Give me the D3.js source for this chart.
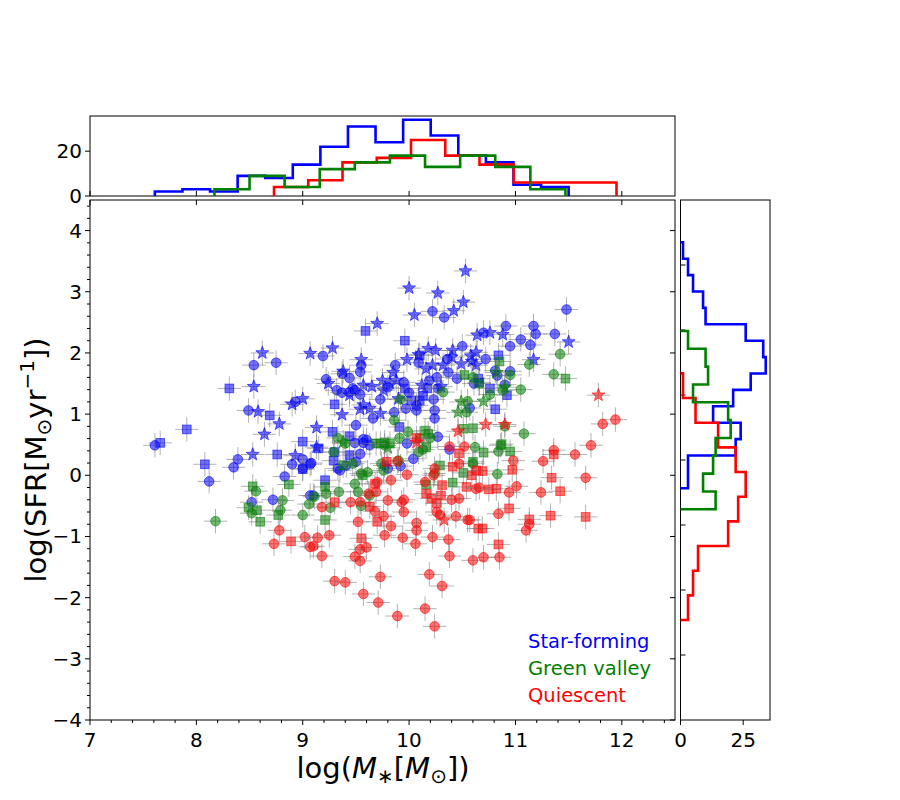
<!DOCTYPE html>
<html><head><meta charset="utf-8">
<script src="https://cdn.jsdelivr.net/npm/d3@7"></script>
<style>body{margin:0;background:#fff}svg{font-family:"DejaVu Sans",sans-serif}</style>
</head><body>
<svg id="c" width="900" height="800"></svg>
<script>
// ---------------- DATA ----------------
// [log M*, log SFR, marker]
const starForming = [
[8.62,2.00,'*'],[8.54,1.80,'o'],[8.75,1.84,'o'],[8.31,1.42,'s'],[8.54,1.45,'*'],[8.49,1.06,'o'],[8.58,1.04,'*'],[8.69,0.98,'s'],[8.78,0.84,'*'],[8.64,0.67,'*'],[8.93,1.20,'o'],[8.90,1.16,'*'],[9.00,1.25,'*'],[9.07,1.99,'*'],[7.91,0.75,'s'],[7.66,0.53,'s'],[7.61,0.49,'o'],[9.00,0.55,'s'],
[10.53,3.34,'*'],[10.00,3.06,'*'],[10.27,2.98,'*'],[10.51,2.83,'*'],[10.42,2.69,'*'],[10.22,2.68,'o'],[10.33,2.58,'o'],[10.05,2.62,'*'],[9.70,2.48,'*'],[9.59,2.36,'s'],[9.96,2.20,'s'],[9.19,1.95,'o'],[9.28,2.08,'*'],[10.50,2.11,'o'],[10.41,2.04,'*'],[10.18,2.07,'*'],[10.25,2.04,'*'],[10.09,1.97,'*'],[10.10,1.96,'s'],[9.87,1.80,'o'],[9.98,1.89,'*'],[10.09,1.84,'o'],[10.16,1.74,'*'],[10.22,1.80,'*'],[10.32,1.80,'*'],[10.40,1.93,'*'],[10.49,1.82,'*'],[10.37,1.68,'o'],[10.26,1.60,'o'],[10.45,1.58,'o'],[10.59,1.86,'*'],[10.63,2.01,'*'],[10.64,2.29,'*'],
[9.55,1.89,'*'],[9.55,1.80,'o'],[9.54,1.69,'o'],[9.38,1.70,'*'],[9.37,1.66,'o'],[9.44,1.59,'o'],[9.22,1.57,'o'],[9.24,1.50,'*'],[9.75,1.55,'*'],[9.82,1.50,'*'],[9.88,1.55,'*'],[9.95,1.52,'o'],[9.57,1.47,'*'],[9.47,1.42,'o'],[9.49,1.39,'o'],[9.44,1.36,'o'],[9.32,1.39,'o'],[9.37,1.35,'o'],[9.44,1.31,'*'],[9.54,1.32,'o'],[9.76,1.39,'*'],[9.80,1.44,'o'],[9.96,1.42,'s'],[10.17,1.42,'s'],[10.12,1.47,'*'],[10.27,1.42,'o'],[9.73,1.24,'o'],[9.30,1.16,'s'],[9.57,1.15,'*'],[9.63,1.09,'*'],[9.54,1.08,'*'],[9.37,0.99,'*'],[9.66,0.93,'o'],[9.73,1.01,'*'],[9.86,1.03,'o'],[9.97,1.09,'o'],[10.02,1.22,'s'],[10.10,1.22,'s'],[10.07,1.14,'o'],[10.07,1.06,'o'],[10.23,1.24,'o'],[10.24,1.06,'o'],[10.24,0.93,'o'],[10.27,0.63,'o'],[9.13,0.78,'*'],[9.28,0.71,'s'],[9.50,0.82,'o'],[9.44,0.64,'s'],[9.57,0.59,'o'],[9.60,0.58,'o'],[9.13,0.46,'*'],[9.91,0.79,'s'],
[10.00,1.35,'o'],[10.19,1.55,'o'],[10.13,1.30,'s'],[9.90,1.25,'*'],[9.65,1.45,'*'],[9.85,1.68,'*'],[10.30,1.45,'*'],[10.36,1.90,'o'],
[11.48,2.71,'o'],[10.91,2.44,'o'],[11.17,2.44,'o'],[11.19,2.31,'o'],[11.37,2.31,'o'],[11.50,2.18,'*'],[11.05,2.22,'o'],[10.95,2.11,'o'],[11.14,2.13,'o'],[10.88,2.30,'*'],[10.76,2.33,'*'],[10.70,2.33,'o'],[10.72,1.90,'o'],[10.84,1.96,'s'],[11.17,1.89,'*'],[10.81,1.71,'o'],[10.83,1.63,'o'],[10.95,1.70,'o'],[10.90,1.48,'o'],[10.76,1.42,'s'],[10.92,1.31,'s'],[10.81,1.08,'s'],
[10.58,1.95,'*'],[10.61,1.50,'o'],[10.57,1.10,'o'],[10.63,1.80,'*'],[10.65,1.58,'s'],[10.66,1.52,'s'],
[8.08,0.18,'s'],[8.12,-0.10,'o'],[8.39,0.26,'o'],[8.35,0.13,'o'],[8.53,0.34,'*'],[8.76,0.34,'s'],[8.93,0.32,'*'],[9.00,0.26,'o'],[8.90,0.18,'o'],[9.00,0.10,'s'],[9.07,0.18,'o'],[8.83,-0.02,'o'],[8.72,-0.40,'o'],[8.52,-0.44,'o'],[9.07,-0.33,'o'],
[9.08,0.20,'o'],[9.00,0.11,'o'],[9.15,0.44,'s'],[9.30,0.38,'s'],[9.29,0.24,'s'],[9.35,0.08,'o'],[9.33,0.11,'o'],[9.41,0.16,'o'],[9.50,0.22,'o'],[9.54,0.35,'o'],[9.44,0.33,'s'],[9.21,-0.08,'s'],[9.10,-0.33,'o'],[9.49,0.53,'o'],[9.57,0.53,'o'],[9.63,0.49,'o'],[9.77,0.16,'o'],[9.80,0.11,'o'],[9.98,0.52,'o'],[10.04,0.27,'o'],[10.38,0.42,'o'],[9.92,0.15,'o']
];
const greenValley = [
[9.92,1.24,'o'],[9.86,0.90,'o'],[10.32,1.36,'o'],[10.52,1.64,'s'],[10.60,1.60,'o'],[10.55,1.21,'o'],[10.49,1.20,'*'],[10.46,1.03,'*'],[10.54,1.03,'o'],[10.60,0.77,'s'],[10.51,0.76,'s'],[10.62,0.46,'o'],[10.15,0.73,'s'],[10.18,0.68,'s'],[10.10,0.60,'s'],[9.91,0.61,'o'],[9.99,0.71,'o'],[9.77,0.54,'s'],[9.69,0.52,'s'],[9.33,0.61,'o'],[10.20,0.61,'o'],[9.40,0.52,'o'],[9.80,0.45,'*'],[9.38,0.54,'*'],
[11.42,1.98,'o'],[10.85,1.86,'s'],[11.13,1.81,'o'],[10.95,1.64,'o'],[10.82,1.68,'*'],[11.36,1.65,'o'],[11.47,1.58,'s'],[10.90,1.44,'*'],[10.88,1.39,'o'],[11.05,1.40,'o'],[10.76,1.32,'o'],[10.70,1.21,'*'],[11.08,0.68,'o'],[10.87,0.51,'s'],[10.90,0.80,'o'],[10.66,1.50,'s'],
[8.53,-0.18,'s'],[8.56,-0.26,'o'],[8.87,-0.15,'s'],[8.81,-0.41,'o'],[8.49,-0.53,'s'],[8.57,-0.57,'s'],[8.52,-0.62,'o'],[8.60,-0.76,'s'],[8.79,-0.57,'o'],[8.77,-0.65,'s'],[9.00,-0.65,'o'],[9.06,-0.47,'o'],[8.18,-0.75,'o'],
[9.29,0.38,'o'],[9.38,0.16,'s'],[9.47,0.19,'o'],[9.55,0.03,'o'],[9.56,0.00,'s'],[9.61,0.05,'o'],[9.76,0.08,'o'],[9.74,0.19,'o'],[9.90,0.24,'o'],[9.73,0.52,'s'],[9.77,0.49,'o'],[9.82,0.52,'s'],[10.09,0.38,'o'],[10.13,0.42,'o'],[10.16,0.46,'s'],[9.49,-0.14,'o'],[9.52,-0.27,'o'],[9.34,-0.27,'o'],[9.22,-0.30,'o'],[9.21,-0.19,'s'],[9.11,-0.35,'o'],[9.26,-0.53,'o'],[9.55,-0.50,'o'],[9.63,-0.33,'o'],[9.21,-0.73,'s'],[10.29,0.16,'s'],[10.24,0.03,'o'],[10.41,-0.12,'s'],[10.16,-0.15,'s'],[10.51,0.04,'s'],[10.60,0.22,'s'],[10.60,0.19,'o'],
[10.70,0.37,'s'],[10.84,0.39,'o'],[10.86,0.49,'s'],[10.95,0.39,'s'],[10.83,0.02,'o']
];
const quiescent = [
[10.07,0.61,'s'],[10.46,0.72,'*'],[11.78,1.31,'*'],[11.94,0.91,'o'],[11.82,0.84,'o'],[10.72,0.83,'*'],[10.90,0.83,'*'],
[8.78,-0.90,'o'],[8.73,-1.12,'o'],[8.89,-1.08,'s'],[9.02,-1.01,'o'],[9.07,-1.17,'o'],
[10.07,0.54,'*'],[10.38,0.47,'o'],[10.52,0.47,'o'],[10.47,0.36,'s'],[10.47,0.19,'o'],[10.41,0.14,'s'],[10.24,0.11,'o'],[10.23,0.00,'o'],[10.59,0.00,'s'],[10.63,0.08,'s'],[9.98,0.01,'o'],[9.89,0.23,'o'],[9.79,0.22,'s'],[9.83,-0.08,'o'],[9.70,-0.11,'o'],[9.68,-0.14,'s'],[9.69,-0.27,'o'],[9.62,-0.30,'o'],[9.80,-0.41,'o'],[9.93,-0.44,'o'],[9.95,-0.40,'o'],[9.95,-0.60,'o'],[10.31,-0.16,'s'],[10.15,-0.11,'o'],[10.16,-0.30,'s'],[10.21,-0.38,'s'],[10.30,-0.33,'s'],[10.26,-0.46,'s'],[10.40,-0.40,'o'],[10.47,-0.38,'o'],[10.54,-0.19,'s'],[10.63,-0.22,'o'],[10.26,-0.60,'o'],[10.29,-0.65,'o'],[10.33,-0.73,'*'],[10.44,-0.67,'o'],[10.55,-0.73,'o'],[10.65,-0.87,'s'],
[9.30,-0.44,'s'],[9.45,-0.44,'o'],[9.54,-0.44,'o'],[9.18,-0.52,'o'],[9.63,-0.51,'s'],[9.68,-0.59,'o'],[9.76,-0.67,'o'],[9.70,-0.76,'s'],[9.52,-0.76,'o'],[9.83,-0.83,'o'],[10.07,-0.78,'o'],[10.07,-0.90,'o'],[9.14,-1.02,'o'],[9.25,-0.98,'o'],[9.10,-1.16,'o'],[9.18,-1.32,'o'],[9.77,-0.98,'o'],[9.94,-1.02,'o'],[10.06,-1.12,'o'],[10.22,-1.01,'o'],[10.37,-1.05,'o'],[9.55,-1.03,'s'],[9.60,-1.18,'o'],[9.54,-1.21,'o'],[9.49,-1.33,'o'],[9.54,-1.40,'o'],[10.38,-1.32,'o'],[10.60,-1.39,'o'],[9.30,-1.73,'o'],[9.40,-1.75,'o'],[9.73,-1.66,'o'],[10.19,-1.62,'o'],[10.31,-1.81,'o'],[9.57,-1.94,'o'],[9.71,-2.08,'o'],[10.15,-2.18,'o'],[9.89,-2.30,'o'],[10.24,-2.47,'o'],
[11.36,0.41,'o'],[11.36,0.34,'s'],[11.56,0.34,'o'],[11.71,0.49,'o'],[10.98,0.24,'o'],[11.26,0.23,'o'],[10.97,0.09,'s'],[10.69,0.07,'s'],[11.34,-0.04,'s'],[11.66,-0.04,'o'],[10.66,-0.20,'o'],[10.75,-0.23,'s'],[10.82,-0.22,'s'],[10.94,-0.28,'o'],[11.01,-0.18,'o'],[11.24,-0.28,'o'],[11.42,-0.26,'s'],[10.94,-0.54,'s'],[10.84,-0.63,'o'],[10.57,-0.73,'o'],[11.13,-0.72,'s'],[11.33,-0.66,'s'],[11.66,-0.68,'s'],[11.13,-0.80,'o'],[11.10,-0.90,'o'],[10.69,-0.87,'s'],[10.84,-1.13,'s'],[10.70,-1.34,'o'],[10.85,-1.34,'o']
];
// histogram of stellar mass (top panel): range [lo, hi], equal-width bins
const massHistSF = {lo:7.61, hi:11.50, counts:[2,3,2,9,8,14,22,31,24,34,27,18,15,5,4]};
const massHistGV = {lo:8.17, hi:11.47, counts:[3,9,4,12,15,18,13,18,13,3]};
const massHistQ  = {lo:8.73, hi:11.95, counts:[4,7,15,17,25,18,14,6,6,6]};
// histogram of SFR (right panel), bins ascending
const sfrHistSF = {lo:-0.435, hi:3.349, counts:[3,3,22,24,13,21,28,34,33,26,10,9,5,3,1]};
const sfrHistGV = {lo:-0.758, hi:1.985, counts:[14,9,13,14,20,19,5,11,10,3]};
const sfrHistQ  = {lo:-2.462, hi:1.333, counts:[3,5,7,19,23,26,22,15,6,1]};
const xTicks = [7,8,9,10,11,12];
const yTicks = [-4,-3,-2,-1,0,1,2,3,4];
const topTicks = [0,20];
const rightTicks = [0,25];
const rightYTicks = [-3,-2,-1,0,1,2,3];
const legendLabels = ["Star-forming","Green valley","Quiescent"];
const xErr = 0.11, yErr = 0.2;

// ---------------- LAYOUT ----------------
const svg = d3.select("#c");
const L=90, R=675, T=200, B=720;
const x = d3.scaleLinear([7,12.5],[L,R]);
const y = d3.scaleLinear([-4,4.5],[B,T]);
const yT = d3.scaleLinear([0,35.7],[196,116]);
const xR = d3.scaleLinear([0,35.7],[680.5,770]);
const yR = d3.scaleLinear([-4,4],[B,T]);
const colors = ["#0000ff","#008000","#ff0000"];
const FS = 20;

function starPath(r1, r2){
  const pts=[];
  for(let i=0;i<10;i++){const a=-Math.PI/2+i*Math.PI/5; const r=i%2?r2:r1; pts.push([r*Math.cos(a), r*Math.sin(a)]);}
  return "M"+pts.map(p=>p[0].toFixed(2)+","+p[1].toFixed(2)).join("L")+"Z";
}

// ---------------- SCATTER ----------------
const gS = svg.append("g");
[starForming, greenValley, quiescent].forEach((data,ci)=>{
  const col = colors[ci];
  const g = gS.append("g");
  data.forEach(d=>{
    const px=x(d[0]), py=y(d[1]);
    g.append("line").attr("x1",x(d[0]-xErr)).attr("x2",x(d[0]+xErr)).attr("y1",py).attr("y2",py)
      .attr("stroke","#808080").attr("stroke-opacity",0.6).attr("stroke-width",1);
    g.append("line").attr("x1",px).attr("x2",px).attr("y1",y(d[1]-yErr)).attr("y2",y(d[1]+yErr))
      .attr("stroke","#808080").attr("stroke-opacity",0.6).attr("stroke-width",1);
    let m;
    if(d[2]==='o') m=g.append("circle").attr("cx",px).attr("cy",py).attr("r",4.8);
    else if(d[2]==='s') m=g.append("rect").attr("x",px-4.3).attr("y",py-4.3).attr("width",8.6).attr("height",8.6);
    else m=g.append("path").attr("d",starPath(6.8,2.8)).attr("transform",`translate(${px},${py})`);
    m.attr("fill",col).attr("fill-opacity",0.55).attr("stroke",col).attr("stroke-opacity",0.6).attr("stroke-width",1);
  });
});

// ---------------- FRAMES & TICKS ----------------
function frame(x0,y0,x1,y1){svg.append("rect").attr("x",x0).attr("y",y0).attr("width",x1-x0).attr("height",y1-y0).attr("fill","none").attr("stroke","#000").attr("stroke-width",1);}
function tick(x1,y1,x2,y2){svg.append("line").attr("x1",x1).attr("y1",y1).attr("x2",x2).attr("y2",y2).attr("stroke","#000").attr("stroke-width",1);}
function label(t,px,py,anchor){svg.append("text").attr("x",px).attr("y",py).attr("text-anchor",anchor).attr("font-size",FS).attr("fill","#000").text(t);}

frame(L,T,R,B);
// main x axis
xTicks.forEach(v=>{tick(x(v),B,x(v),B+5); tick(x(v),T,x(v),T+5); label(String(v),x(v),B+27,"middle");});
d3.range(70,125,2).map(v=>v/10).filter(v=>!xTicks.includes(v)).forEach(v=>tick(x(v),B,x(v),B+3));
// main y axis
yTicks.forEach(v=>{tick(L-5,y(v),L,y(v)); tick(R-5,y(v),R,y(v)); label(v<0?"\u2212"+(-v):String(v),L-8,y(v)+7,"end");});
d3.range(-40,45,2).map(v=>v/10).filter(v=>!yTicks.includes(v)).forEach(v=>tick(L-3,y(v),L,y(v)));

// top histogram panel
frame(L,116,R,196);
topTicks.forEach(v=>{tick(L-5,yT(v),L,yT(v)); label(String(v),L-8,yT(v)+7,"end");});
xTicks.forEach(v=>tick(x(v),196,x(v),191));
// right histogram panel
frame(680.5,T,770,B);
rightTicks.forEach(v=>{tick(xR(v),B,xR(v),B+5); label(String(v),xR(v),B+27,"middle");});
rightYTicks.forEach(v=>tick(680.5,yR(v),685.5,yR(v)));

// ---------------- HISTOGRAMS ----------------
function edges(h){const n=h.counts.length; return h.counts.map((c,i)=>[h.lo+(h.hi-h.lo)*i/n, h.lo+(h.hi-h.lo)*(i+1)/n, c]);}
const lineTop = d3.line().x(d=>x(d[0])).y(d=>yT(d[1]));
const lineRight = d3.line().x(d=>xR(d[1])).y(d=>yR(d[0]));
[[massHistSF,sfrHistSF,0],[massHistQ,sfrHistQ,2],[massHistGV,sfrHistGV,1]].forEach(([hm,hs,ci])=>{
  let p=[[hm.lo,0]]; edges(hm).forEach(e=>{p.push([e[0],e[2]],[e[1],e[2]]);}); p.push([hm.hi,0]);
  svg.append("path").attr("d",lineTop(p)).attr("fill","none").attr("stroke",colors[ci]).attr("stroke-width",2.6);
  let q=[[hs.lo,0]]; edges(hs).forEach(e=>{q.push([e[0],e[2]],[e[1],e[2]]);}); q.push([hs.hi,0]);
  svg.append("path").attr("d",lineRight(q)).attr("fill","none").attr("stroke",colors[ci]).attr("stroke-width",2.6);
});

// ---------------- LEGEND TEXT ----------------
legendLabels.forEach((t,i)=>{
  svg.append("text").attr("x",528).attr("y",648+i*27).attr("font-size",19.5).attr("fill",colors[i]).text(t);
});

// ---------------- AXIS LABELS ----------------
const xl = svg.append("text").attr("x",383).attr("y",778).attr("text-anchor","middle").attr("font-size",29).attr("fill","#000");
xl.append("tspan").text("log(");
xl.append("tspan").attr("font-style","italic").text("M");
xl.append("tspan").attr("font-size",20).attr("dy",5).text("\u2217");
xl.append("tspan").attr("dy",-5).text("[");
xl.append("tspan").attr("font-style","italic").text("M");
xl.append("tspan").attr("font-size",20).attr("dy",5).text("\u2299");
xl.append("tspan").attr("dy",-5).text("])");

const yl = svg.append("text").attr("transform","translate(46,460) rotate(-90)").attr("text-anchor","middle").attr("font-size",29).attr("fill","#000");
yl.append("tspan").text("log(SFR[M");
yl.append("tspan").attr("font-size",20).attr("dy",5).text("\u2299");
yl.append("tspan").attr("dy",-5).text("yr");
yl.append("tspan").attr("font-size",20).attr("dy",-12).text("\u22121");
yl.append("tspan").attr("dy",12).text("])");
</script>
</body></html>
